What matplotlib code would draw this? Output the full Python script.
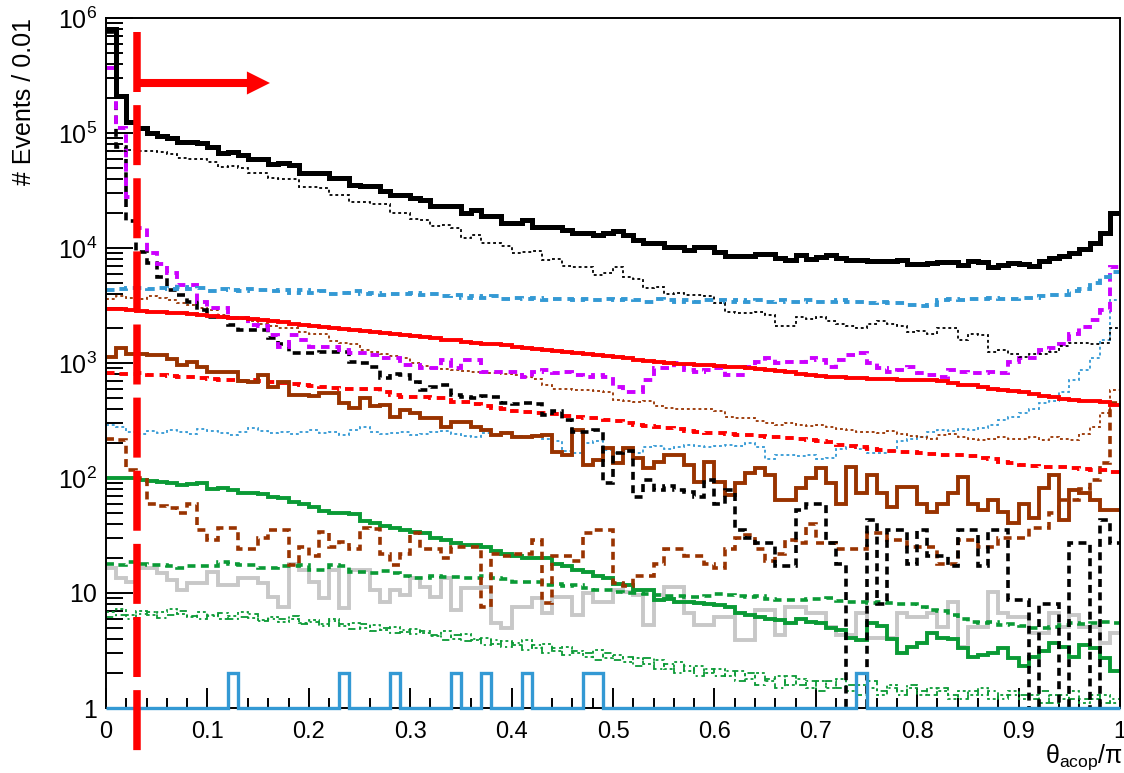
import numpy as np
import matplotlib
matplotlib.use("Agg")
import matplotlib.pyplot as plt
import matplotlib.transforms as mtransforms
from matplotlib.patches import FancyArrowPatch
from matplotlib.ticker import FixedLocator, FixedFormatter, LogLocator, NullFormatter, MultipleLocator

plt.rcParams['font.family'] = ['Liberation Sans', 'DejaVu Sans']
plt.rcParams['mathtext.fontset'] = 'custom'
plt.rcParams['mathtext.rm'] = 'Liberation Sans'
plt.rcParams['mathtext.it'] = 'Liberation Sans:italic'
plt.rcParams['mathtext.bf'] = 'Liberation Sans:bold'

# ---------------- data: 100 bins of width 0.01 in theta_acop/pi ----------------
bin_edges = np.linspace(0.0, 1.0, 101)

black_total = [8.0e5, 2.1e5, 1.25e5, 1.1e5, 1.0e5, 9.4e4, 9.0e4, 8.4e4, 8.4e4, 8.2e4,
               7.6e4, 6.7e4, 6.9e4, 6.4e4, 5.9e4, 5.9e4, 5.4e4, 5.5e4, 5.3e4, 4.5e4,
               4.5e4, 4.5e4, 4.1e4, 4.1e4, 3.55e4, 3.46e4, 3.46e4, 3.1e4, 2.9e4, 2.9e4,
               2.7e4, 2.6e4, 2.3e4, 2.3e4, 2.3e4, 2.0e4, 2.14e4, 1.9e4, 1.9e4, 1.65e4,
               1.65e4, 1.75e4, 1.52e4, 1.52e4, 1.52e4, 1.44e4, 1.36e4, 1.36e4, 1.3e4, 1.36e4,
               1.4e4, 1.3e4, 1.17e4, 1.1e4, 1.1e4, 1.02e4, 1.02e4, 9.6e3, 1.02e4, 1.02e4,
               9.2e3, 8.5e3, 8.5e3, 8.5e3, 8.8e3, 8.8e3, 8.2e3, 7.9e3, 8.7e3, 8.1e3,
               8.4e3, 8.7e3, 8.2e3, 7.9e3, 7.9e3, 7.7e3, 7.7e3, 7.7e3, 7.9e3, 7.3e3,
               7.3e3, 7.4e3, 7.6e3, 7.6e3, 7.1e3, 7.7e3, 7.5e3, 6.9e3, 7.1e3, 7.4e3,
               7.3e3, 7.0e3, 7.7e3, 8.2e3, 8.5e3, 9.0e3, 9.8e3, 1.1e4, 1.36e4, 2.0e4]

black_dotted = [7.0e4, 7.0e4, 7.1e4, 7.0e4, 7.0e4, 6.9e4, 6.6e4, 6.1e4, 6.0e4, 6.0e4,
                5.6e4, 5.1e4, 5.2e4, 5.0e4, 4.5e4, 4.5e4, 4.1e4, 4.0e4, 4.0e4, 3.4e4,
                3.4e4, 3.3e4, 2.9e4, 2.9e4, 2.5e4, 2.5e4, 2.4e4, 2.4e4, 2.0e4, 2.0e4,
                1.8e4, 1.75e4, 1.56e4, 1.6e4, 1.5e4, 1.23e4, 1.3e4, 1.1e4, 1.1e4, 1.05e4,
                9.1e3, 9.3e3, 9.4e3, 7.9e3, 8.0e3, 7.0e3, 6.9e3, 6.8e3, 5.8e3, 6.1e3,
                6.9e3, 5.6e3, 5.4e3, 4.5e3, 4.6e3, 4.0e3, 4.1e3, 3.9e3, 3.9e3, 3.8e3,
                3.3e3, 2.8e3, 2.7e3, 2.7e3, 2.8e3, 2.6e3, 2.1e3, 2.1e3, 2.5e3, 2.4e3,
                2.5e3, 2.3e3, 2.2e3, 2.1e3, 2.0e3, 2.2e3, 2.3e3, 2.2e3, 2.1e3, 1.85e3,
                1.9e3, 1.8e3, 2.0e3, 2.0e3, 1.6e3, 1.8e3, 1.75e3, 1.25e3, 1.3e3, 1.2e3,
                1.13e3, 1.2e3, 1.2e3, 1.25e3, 1.4e3, 1.5e3, 1.5e3, 1.45e3, 1.5e3, 2.0e3]

magenta_dashed = [3.7e5, 1.1e5, 2.8e4, 1.5e4, 9.0e3, 7.2e3, 6.1e3, 4.8e3, 4.8e3, 3.4e3,
                  3.0e3, 3.0e3, 2.45e3, 2.45e3, 2.14e3, 2.1e3, 1.75e3, 1.37e3, 1.75e3, 1.58e3,
                  1.37e3, 1.37e3, 1.37e3, 1.3e3, 1.23e3, 1.23e3, 1.17e3, 1.1e3, 1.1e3, 960,
                  960, 905, 905, 1.06e3, 905, 1.06e3, 1.06e3, 835, 835, 835,
                  835, 760, 835, 870, 820, 835, 790, 760, 790, 760,
                  620, 560, 560, 711, 905, 905, 1.0e3, 870, 835, 870,
                  905, 790, 790, 920, 1.02e3, 1.1e3, 1.0e3, 1.02e3, 1.02e3, 1.1e3,
                  1.06e3, 920, 1.06e3, 1.17e3, 1.23e3, 1.0e3, 905, 835, 870, 920,
                  820, 790, 760, 870, 835, 820, 820, 835, 820, 1.02e3,
                  1.1e3, 1.1e3, 1.3e3, 1.35e3, 1.45e3, 1.8e3, 2.05e3, 2.37e3, 2.9e3, 6.9e3]

black_dashed = [7.5e5, 7.5e4, 1.7e4, 9.2e3, 7.4e3, 5.6e3, 4.3e3, 3.9e3, 3.4e3, 2.9e3,
                2.5e3, 2.5e3, 2.14e3, 1.94e3, 1.94e3, 1.94e3, 1.64e3, 1.45e3, 1.23e3, 1.23e3,
                1.23e3, 1.25e3, 1.25e3, 1.25e3, 1.02e3, 1.0e3, 920, 740, 800, 780,
                680, 580, 620, 640, 530, 510, 500, 520, 510, 450,
                440, 450, 440, 350, 380, 320, 250, 250, 260, 90,
                165, 170, 68, 96, 79, 85, 79, 75, 68, 96,
                60, 79, 35, 30, 27, 27, 17, 17, 53, 60,
                60, 27, 18, 0, 0, 43, 8, 35, 35, 18,
                35, 21, 21, 17, 35, 35, 17, 35, 35, 8.7,
                8.7, 0, 8, 8, 0, 27, 27, 0, 43, 27]

blue_dashed = [4.3e3, 4.4e3, 4.5e3, 4.5e3, 4.4e3, 4.5e3, 4.4e3, 4.6e3, 4.4e3, 4.5e3,
               4.2e3, 4.4e3, 4.3e3, 4.2e3, 4.4e3, 4.3e3, 4.2e3, 4.3e3, 4.1e3, 4.3e3,
               4.1e3, 4.2e3, 4.0e3, 4.1e3, 4.2e3, 4.0e3, 4.1e3, 3.9e3, 4.0e3, 4.0e3,
               4.1e3, 3.9e3, 4.0e3, 3.8e3, 3.9e3, 3.7e3, 3.8e3, 3.7e3, 3.8e3, 3.6e3,
               3.7e3, 3.6e3, 3.7e3, 3.5e3, 3.6e3, 3.6e3, 3.5e3, 3.6e3, 3.5e3, 3.6e3,
               3.5e3, 3.6e3, 3.5e3, 3.4e3, 3.6e3, 3.5e3, 3.4e3, 3.5e3, 3.4e3, 3.5e3,
               3.5e3, 3.4e3, 3.5e3, 3.4e3, 3.5e3, 3.4e3, 3.5e3, 3.4e3, 3.4e3, 3.5e3,
               3.4e3, 3.4e3, 3.5e3, 3.4e3, 3.4e3, 3.3e3, 3.4e3, 3.3e3, 3.3e3, 3.2e3,
               3.1e3, 3.2e3, 3.5e3, 3.6e3, 3.5e3, 3.6e3, 3.6e3, 3.7e3, 3.6e3, 3.6e3,
               3.7e3, 3.7e3, 3.8e3, 3.9e3, 3.9e3, 4.2e3, 4.4e3, 5.0e3, 5.6e3, 6.2e3]

blue_dotted = [290, 280, 250, 240, 255, 245, 260, 250, 240, 265,
               255, 245, 235, 250, 270, 255, 245, 250, 240, 250,
               260, 245, 250, 235, 260, 275, 250, 240, 245, 250,
               235, 240, 250, 255, 240, 230, 225, 245, 235, 250,
               230, 225, 235, 220, 210, 170, 165, 200, 210, 175,
               165, 170, 165, 185, 190, 180, 185, 195, 190, 185,
               190, 195, 190, 200, 185, 145, 158, 160, 155, 160,
               145, 150, 180, 185, 180, 165, 165, 170, 210, 220,
               225, 250, 260, 255, 265, 260, 270, 290, 320, 340,
               370, 400, 450, 470, 560, 710, 870, 1100, 1600, 3500]

brown_dotted = [3.6e3, 3.8e3, 3.7e3, 3.6e3, 3.8e3, 3.7e3, 3.5e3, 3.3e3, 3.2e3, 3.0e3,
                2.9e3, 2.6e3, 2.5e3, 2.4e3, 2.3e3, 2.2e3, 2.1e3, 2.0e3, 2.0e3, 1.85e3,
                1.8e3, 1.8e3, 1.55e3, 1.5e3, 1.45e3, 1.3e3, 1.25e3, 1.2e3, 1.15e3, 1.1e3,
                1.0e3, 950, 900, 880, 870, 850, 830, 820, 820, 800,
                780, 750, 720, 640, 600, 590, 580, 580, 570, 560,
                480, 470, 460, 470, 420, 410, 400, 400, 395, 400,
                380, 340, 330, 330, 310, 300, 290, 300, 290, 285,
                290, 280, 265, 260, 250, 250, 245, 255, 240, 230,
                225, 220, 235, 240, 225, 220, 215, 220, 225, 220,
                220, 225, 215, 225, 220, 215, 240, 280, 370, 580]

red_solid = [2.95e3, 2.95e3, 2.9e3, 2.85e3, 2.8e3, 2.75e3, 2.72e3, 2.7e3, 2.65e3, 2.6e3,
             2.55e3, 2.5e3, 2.45e3, 2.45e3, 2.4e3, 2.35e3, 2.3e3, 2.25e3, 2.2e3, 2.15e3,
             2.1e3, 2.05e3, 2.0e3, 1.97e3, 1.93e3, 1.9e3, 1.85e3, 1.82e3, 1.78e3, 1.75e3,
             1.72e3, 1.68e3, 1.65e3, 1.6e3, 1.57e3, 1.53e3, 1.5e3, 1.47e3, 1.45e3, 1.42e3,
             1.39e3, 1.36e3, 1.33e3, 1.3e3, 1.28e3, 1.25e3, 1.22e3, 1.2e3, 1.17e3, 1.14e3,
             1.12e3, 1.1e3, 1.07e3, 1.05e3, 1.02e3, 1.0e3, 990, 980, 970, 960,
             945, 930, 915, 900, 885, 870, 850, 830, 810, 790,
             770, 760, 750, 740, 735, 730, 725, 720, 715, 712,
             710, 710, 700, 670, 650, 640, 620, 600, 585, 575,
             555, 540, 520, 505, 490, 478, 470, 465, 455, 432]

red_dashed = [820, 810, 800, 820, 790, 780, 770, 760, 760, 740,
              720, 715, 710, 700, 710, 700, 690, 670, 660, 645,
              630, 620, 605, 600, 600, 590, 590, 560, 530, 510,
              510, 505, 500, 495, 460, 455, 440, 420, 410, 400,
              380, 375, 370, 365, 360, 345, 340, 335, 330, 320,
              310, 300, 290, 285, 280, 270, 265, 258, 252, 248,
              245, 242, 238, 235, 232, 228, 225, 222, 218, 214,
              210, 205, 195, 188, 185, 180, 175, 172, 168, 167,
              165, 163, 160, 158, 158, 155, 150, 145, 138, 135,
              130, 127, 125, 124, 124, 122, 120, 118, 117, 113]

brown_solid = [1.13e3, 1.35e3, 1.2e3, 1.2e3, 1.17e3, 1.17e3, 1.08e3, 960, 1.02e3, 930,
               840, 830, 835, 700, 690, 780, 620, 680, 530, 530,
               520, 550, 550, 450, 410, 500, 420, 430, 340, 390,
               370, 330, 335, 280, 305, 305, 280, 260, 237, 245,
               226, 226, 230, 237, 167, 158, 260, 130, 144, 182,
               135, 182, 150, 122, 137, 158, 158, 130, 92, 137,
               92, 71, 90, 110, 122, 106, 64, 64, 82, 100,
               122, 90, 60, 125, 74, 106, 74, 56, 83, 83,
               60, 51, 60, 74, 102, 60, 53, 64, 51, 41,
               60, 45, 82, 106, 43, 79, 74, 64, 53, 53]

brown_dashed = [220, 215, 117, 100, 60, 57, 55, 50, 60, 35,
                29, 37, 37, 24, 24, 30, 35, 35, 17.5, 25,
                21, 34, 25, 28, 24, 37, 36, 22, 17.5, 22,
                33, 24, 24, 20, 25, 25, 25, 7.5, 22, 21,
                22, 22, 29, 8.2, 21, 21, 19, 33, 35, 35,
                12.2, 11.5, 14, 14, 18, 24, 24, 21, 21, 18,
                16.5, 24, 30, 32, 24, 19, 22, 29, 27, 40,
                27, 27, 24, 24, 24, 33, 33, 29, 29, 25,
                25, 25, 18, 18, 29, 29, 25, 25, 30, 30,
                30, 37, 37, 50, 64, 64, 80, 96, 135, 450]

green_solid = [100, 101, 100, 96, 95, 92, 90, 87, 88, 90,
               80, 82, 78, 74, 74, 72, 68, 67, 62, 60,
               56, 52, 50, 50, 49, 42, 41, 38, 37, 35,
               34, 33, 30, 29, 27, 26, 26, 25, 23, 22,
               21, 20, 20, 20, 18, 17, 16, 15.2, 14, 13.5,
               12, 11.7, 10.6, 10.6, 8.7, 8.8, 8.4, 8.4, 8.2, 8.0,
               7.9, 7.5, 6.7, 6.4, 6.2, 6.0, 5.8, 5.5, 6.0, 5.6,
               5.5, 5.0, 4.8, 4.1, 3.9, 5.5, 5.2, 4.0, 3.0, 3.4,
               3.7, 4.5, 4.1, 4.0, 3.3, 2.8, 2.9, 3.0, 3.3, 2.7,
               2.3, 2.8, 3.1, 3.7, 3.4, 2.8, 3.5, 3.3, 2.7, 2.1]

green_dashed = [18, 17.5, 18.5, 18, 17.5, 17.5, 17, 16.5, 17, 17,
                17, 18.5, 18, 17.5, 17.5, 16.5, 16.5, 17, 17, 17.5,
                16, 16, 17.5, 17, 15.2, 15.2, 15, 15.5, 15, 14,
                13.5, 13.5, 14, 13.8, 13.8, 13.5, 13.5, 14, 13.5, 13.2,
                12.5, 12.5, 12.5, 11.7, 12, 11.5, 11.7, 11, 10.6, 10.6,
                10.2, 10, 10, 9.8, 9.6, 9.5, 9.4, 9.2, 9.2, 9.4,
                9.8, 9.6, 9.4, 9.2, 9.4, 8.8, 8.7, 8.7, 8.7, 8.8,
                8.8, 9.0, 8.6, 8.4, 8.4, 8.2, 8.3, 8.2, 8.1, 8.0,
                7.5, 7.1, 7.0, 6.5, 6.0, 5.6, 5.5, 5.6, 5.3, 5.4,
                5.2, 5.0, 5.0, 5.1, 5.3, 5.5, 5.4, 5.5, 5.6, 5.5]

gray_solid = [16.5, 13.5, 12.5, 16.5, 16.5, 15, 13, 10.6, 12.2, 12.2,
              15.2, 11.7, 11.7, 13.5, 13.5, 12.2, 9.2, 7.6, 18, 15.8,
              12.5, 9.0, 15.8, 7.4, 15.8, 15.8, 10.6, 8.4, 10.6, 9.6,
              13.5, 11.2, 9.2, 13.5, 7.1, 11, 11, 11.2, 5.5, 5.0,
              7.6, 7.6, 9.0, 6.7, 9.2, 9.2, 6.4, 10, 8.4, 8.4,
              10.6, 10.2, 9.6, 5.3, 9.6, 11.2, 11.2, 6.7, 5.3, 5.3,
              6.2, 6.2, 3.9, 3.9, 7.1, 7.1, 4.3, 7.6, 7.6, 6.7,
              6.7, 5.1, 4.3, 4.3, 6.7, 4.1, 4.1, 4.1, 6.7, 6.2,
              6.2, 6.7, 5.1, 8.4, 3.4, 5.1, 5.1, 10.2, 6.7, 6.2,
              6.2, 4.5, 4.5, 6.7, 5.1, 6.4, 5.1, 5.1, 3.7, 4.5]

green_dotted = [6.8, 7.2, 6.5, 7.0, 6.4, 6.8, 7.3, 6.6, 6.2, 6.9,
                6.5, 6.0, 6.3, 6.8, 6.1, 5.8, 6.2, 5.6, 6.0, 5.5,
                5.8, 5.4, 5.9, 5.2, 5.5, 5.0, 5.3, 4.8, 5.1, 4.6,
                4.9, 4.5, 4.2, 4.7, 4.0, 4.4, 3.9, 4.1, 3.6, 3.8,
                3.5, 3.9, 3.3, 3.6, 3.1, 3.4, 3.0, 2.8, 3.2, 2.7,
                2.9, 2.5, 2.7, 2.4, 2.6, 2.2, 2.5, 2.1, 2.3, 2.0,
                2.2, 1.9, 2.1, 1.8, 2.0, 1.7, 1.9, 1.6, 1.8, 1.5,
                1.7, 1.5, 1.8, 1.4, 1.6, 1.5, 1.3, 1.6, 1.4, 1.5,
                1.3, 1.5, 1.4, 1.2, 1.4, 1.3, 1.5, 1.2, 1.3, 1.4,
                1.2, 1.3, 1.1, 1.3, 1.2, 1.4, 1.1, 1.2, 1.3, 1.1]

green_dashdot = [6.2, 6.5, 6.0, 6.6, 6.9, 6.1, 6.4, 7.0, 6.3, 6.0,
                 6.3, 6.7, 5.9, 6.2, 6.6, 5.7, 6.0, 5.9, 6.3, 5.4,
                 5.6, 5.2, 5.7, 5.4, 4.9, 5.4, 4.7, 5.0, 4.5, 4.8,
                 4.4, 4.7, 4.3, 3.9, 4.3, 3.8, 4.0, 3.5, 3.9, 3.4,
                 3.7, 3.2, 3.5, 3.0, 3.3, 2.9, 3.1, 3.0, 2.6, 3.0,
                 2.6, 2.8, 2.3, 2.7, 2.2, 2.4, 2.0, 2.3, 1.9, 2.2,
                 1.9, 2.1, 1.7, 2.0, 1.6, 1.8, 1.5, 1.9, 1.6, 1.7,
                 1.4, 1.7, 1.5, 1.6, 1.3, 1.7, 1.4, 1.5, 1.3, 1.6,
                 1.4, 1.3, 1.5, 1.3, 1.2, 1.4, 1.3, 1.4, 1.2, 1.3,
                 1.3, 1.2, 1.4, 1.1, 1.3, 1.2, 1.2, 1.3, 1.1, 1.2]

blue_solid = [1] * 100
for _b in (12, 23, 28, 34, 37, 41, 47, 48, 74):
    blue_solid[_b] = 2

x_tick_values = [0.0, 0.1, 0.2, 0.3, 0.4, 0.5, 0.6, 0.7, 0.8, 0.9, 1.0]
x_tick_labels = ['0', '0.1', '0.2', '0.3', '0.4', '0.5', '0.6', '0.7', '0.8', '0.9', '1']
y_tick_values = [1, 10, 1e2, 1e3, 1e4, 1e5, 1e6]
y_tick_labels = ['1', '10', r'$10^{2}$', r'$10^{3}$', r'$10^{4}$', r'$10^{5}$', r'$10^{6}$']
cut_value = 0.031

# ---------------- style ----------------
BLACK = '#000000'
MAGENTA = '#cc00ff'
BLUE = '#3399d4'
BROWN = '#993300'
RED = '#ff0000'
GREEN = '#0a9a35'
GRAY = '#c8c8c8'

DASH = (0, (2.2, 1.5))
DOT = (0, (1.6, 1.6))
DASHDOT = (0, (4, 2, 1.2, 2))

fig = plt.figure(figsize=(11.24, 7.73), dpi=100)
ax = fig.add_axes([106 / 1124, 1 - 708 / 773, (1120 - 106) / 1124, 690 / 773])
ax.set_yscale('log')
ax.set_xlim(0, 1)
ax.set_ylim(1, 1e6)


def hist(vals, color, lw, ls='-', z=2, clip=True):
    v = np.asarray(vals, dtype=float)
    v = np.where(v > 0, v, 1e-2)
    ax.stairs(v, bin_edges, baseline=None, color=color, lw=lw, linestyle=ls,
              zorder=z, clip_on=clip, joinstyle='miter')


hist(gray_solid, GRAY, 2.8, '-', 2.0)
hist(green_dotted, GREEN, 1.3, DOT, 2.05)
hist(green_dashdot, GREEN, 1.3, DASHDOT, 2.06)
hist(green_dashed, GREEN, 2.6, DASH, 2.1)
hist(green_solid, GREEN, 2.8, '-', 2.15)
hist(brown_dashed, BROWN, 2.6, DASH, 2.2)
hist(blue_dotted, BLUE, 1.3, DOT, 2.25)
hist(brown_dotted, BROWN, 1.3, DOT, 2.3)
hist(red_dashed, RED, 2.8, DASH, 2.35)
hist(brown_solid, BROWN, 2.8, '-', 2.4)
hist(black_dashed, BLACK, 2.6, DASH, 2.45)
hist(magenta_dashed, MAGENTA, 2.8, DASH, 2.5)
hist(red_solid, RED, 2.8, '-', 2.55)
hist(blue_dashed, BLUE, 2.8, DASH, 2.6)
hist(black_dotted, BLACK, 1.3, DOT, 2.65)
hist(black_total, BLACK, 3.6, '-', 2.7)
hist(blue_solid, BLUE, 2.4, '-', 3.0, clip=False)

# ---------------- axes cosmetics ----------------
for s in ax.spines.values():
    s.set_linewidth(1.4)
    s.set_zorder(2.9)

ax.xaxis.set_major_locator(FixedLocator(x_tick_values))
ax.xaxis.set_major_formatter(FixedFormatter(x_tick_labels))
ax.xaxis.set_minor_locator(MultipleLocator(0.02))
ax.yaxis.set_major_locator(FixedLocator(y_tick_values))
ax.yaxis.set_major_formatter(FixedFormatter(y_tick_labels))
ax.yaxis.set_minor_locator(LogLocator(base=10, subs=np.arange(2, 10), numticks=20))
ax.yaxis.set_minor_formatter(NullFormatter())

ax.tick_params(axis='both', which='both', direction='in', top=False, right=False, color='black')
ax.tick_params(axis='y', which='major', length=19.4, width=1.4, pad=6.5, labelsize=18)
ax.tick_params(axis='y', which='minor', length=12.2, width=1.4)
ax.tick_params(axis='x', which='major', length=14.4, width=1.4, pad=9, labelsize=17)
ax.tick_params(axis='x', which='minor', length=7.2, width=1.4)

fig.text(24 / 1124, 1 - 18 / 773, '# Events / 0.01', rotation=90, ha='center', va='top', fontsize=18)
fig.text(1123 / 1124, 1 - 742 / 773, r'θ$_{\mathrm{acop}}$/π', ha='right', va='top', fontsize=18)

# ---------------- cut line and arrow ----------------
trans = mtransforms.blended_transform_factory(ax.transData, ax.transAxes)
ax.plot([cut_value, cut_value], [(708 - 32) / 690, (708 - 757) / 690], transform=trans,
        color=RED, lw=5.4, linestyle=(0, (8.0, 1.75)), clip_on=False, zorder=5,
        dash_capstyle='butt', solid_capstyle='butt')
arrow = FancyArrowPatch((cut_value, (708 - 83) / 690), (0.1617, (708 - 83) / 690),
                        arrowstyle='simple,head_length=1.66,head_width=1.66,tail_width=0.58',
                        mutation_scale=10, color=RED, lw=0, transform=trans,
                        shrinkA=0, shrinkB=0, clip_on=False, zorder=5)
ax.add_artist(arrow)

fig.savefig('out.png', dpi=100)
